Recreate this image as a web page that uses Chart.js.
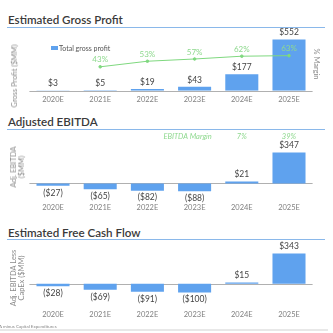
<!DOCTYPE html>
<html>
<head>
<meta charset="utf-8">
<script src="https://cdn.jsdelivr.net/npm/chart.js@4.4.1/dist/chart.umd.min.js"></script>
<style>
  html, body { margin: 0; padding: 0; background: #fff; }
  body { width: 333px; height: 333px; position: relative; overflow: hidden; font-family: Lato, sans-serif; }
  .title { position: absolute; left: 8px; font-size: 11.6px; font-weight: 600; color: #3a3a3a; white-space: nowrap; }
  .rule { position: absolute; left: 7px; width: 318px; height: 1px; background: #8ab8ea; }
  .box { position: absolute; left: 0; width: 333px; }
  .ytitle { position: absolute; font-size: 7.5px; color: #8a8a8a; white-space: nowrap; text-align: center; line-height: 8px;
            transform: translate(-50%, -50%) rotate(-90deg); }
  .rtitle { position: absolute; font-size: 7.5px; color: #8a8a8a; white-space: nowrap;
            transform: translate(-50%, -50%) rotate(90deg); }
  .legend { position: absolute; left: 51px; top: 44px; font-size: 7px; color: #555; white-space: nowrap; }
  .legend span { display: inline-block; width: 7px; height: 4px; background: #5fa2ee; margin-right: 1px; vertical-align: 1px; }
  .note { position: absolute; left: -1px; top: 324px; font-size: 4.5px; color: #888; white-space: nowrap; }
  .bottom { position: absolute; left: 0; top: 329px; width: 328px; height: 2px; background: #e8e8e8; }
</style>
</head>
<body>
<div class="title" style="top:13px">Estimated Gross Profit</div>
<div class="rule" style="top:27px"></div>
<div class="box" style="top:28px;height:84px"><canvas id="c1"></canvas></div>
<div class="ytitle" style="left:15px;top:76px">Gross Profit ($MM)</div>
<div class="rtitle" style="left:316px;top:64px">% Margin</div>
<div class="legend"><span></span>Total gross profit</div>

<div class="title" style="top:115px">Adjusted EBITDA</div>
<div class="rule" style="top:129px"></div>
<div class="box" style="top:130px;height:90px"><canvas id="c2"></canvas></div>
<div class="ytitle" style="left:18px;top:167px">Adj. EBITDA<br>($MM)</div>

<div class="title" style="top:226px">Estimated Free Cash Flow</div>
<div class="rule" style="top:239px"></div>
<div class="box" style="top:241px;height:85px"><canvas id="c3"></canvas></div>
<div class="ytitle" style="left:18px;top:278px">Adj. EBITDA Less<br>CapEx ($MM)</div>

<div class="note">A minus Capital Expenditures</div>
<div class="bottom"></div>

<script>
// categories
var years = ['2020E', '2021E', '2022E', '2023E', '2024E', '2025E'];
// values ($MM)
var grossProfit = [3, 5, 19, 43, 177, 552];
var grossMargin = [null, 43, 53, 57, 62, 63];
var ebitda = [-27, -65, -82, -88, 21, 347];
var ebitdaMargin = [null, null, null, null, 7, 39];
var freeCashFlow = [-28, -69, -91, -100, 15, 343];

var barColor = '#5fa2ee';
var green = '#7fd87f';

Chart.defaults.font.family = 'Lato';
Chart.defaults.color = '#808080';

function money(v) {
  return v < 0 ? '($' + (-v) + ')' : '$' + v;
}

// value labels + zero line
var valueLabels = {
  id: 'valueLabels',
  beforeDatasetsDraw: function(chart) {
    var ctx = chart.ctx;
    var area = chart.chartArea;
    var y0 = Math.round(chart.scales.y.getPixelForValue(0)) + 0.5;
    ctx.save();
    ctx.strokeStyle = '#b0b0b0';
    ctx.lineWidth = 1;
    ctx.beginPath();
    ctx.moveTo(area.left, y0);
    ctx.lineTo(area.right, y0);
    ctx.stroke();
    ctx.restore();
  },
  afterDatasetsDraw: function(chart, args, opts) {
    var ctx = chart.ctx;
    ctx.save();
    ctx.textAlign = 'center';
    ctx.textBaseline = 'middle';
    chart.data.datasets.forEach(function(ds, i) {
      var meta = chart.getDatasetMeta(i);
      meta.data.forEach(function(el, j) {
        var v = ds.data[j];
        if (v == null) return;
        if (meta.type == 'line') {
          ctx.fillStyle = '#8fd98f';
          ctx.font = '8px Lato';
          ctx.fillText(v + '%', el.x, el.y - 7);
        } else {
          ctx.fillStyle = '#444';
          ctx.font = '8.5px Lato';
          ctx.fillText(money(v), el.x, v < 0 ? el.y + 7 : el.y - 7);
        }
      });
    });
    if (opts.margins) {
      var x = chart.scales.x;
      var yy = chart.chartArea.top - 11;
      ctx.fillStyle = '#8fd98f';
      ctx.font = 'italic 7.5px Lato';
      opts.margins.forEach(function(m, j) {
        if (m == null) return;
        ctx.fillText(m + '%', x.getPixelForValue(j), yy);
      });
      ctx.textAlign = 'right';
      ctx.fillText('EBITDA Margin', x.getPixelForValue(4) - 30, yy);
    }
    ctx.restore();
  }
};

function xAxis() {
  return {
    grid: { display: false, drawTicks: false },
    border: { display: false },
    ticks: { padding: 4, font: { size: 7.5 }, color: '#808080' }
  };
}

function barSet(data) {
  return {
    type: 'bar',
    data: data,
    backgroundColor: barColor,
    barPercentage: 0.7,
    categoryPercentage: 1,
    order: 2
  };
}

var c1 = new Chart(document.getElementById('c1'), {
  data: {
    labels: years,
    datasets: [
      {
        type: 'line',
        data: grossMargin,
        yAxisID: 'y2',
        borderColor: green,
        backgroundColor: green,
        borderWidth: 1,
        pointRadius: 1.3,
        order: 1
      },
      barSet(grossProfit)
    ]
  },
  options: {
    responsive: true,
    maintainAspectRatio: false,
    animation: false,
    layout: { padding: { left: 29.4, right: 20.4, top: 7, bottom: 4.2 } },
    plugins: { legend: { display: false }, tooltip: { enabled: false }, valueLabels: {} },
    scales: {
      x: xAxis(),
      y: { display: false, min: 0, max: 600 },
      y2: { display: false, min: 0, max: 100 }
    }
  },
  plugins: [valueLabels]
});

var c2 = new Chart(document.getElementById('c2'), {
  data: { labels: years, datasets: [barSet(ebitda)] },
  options: {
    responsive: true,
    maintainAspectRatio: false,
    animation: false,
    layout: { padding: { left: 29.4, right: 20.4, top: 17.8, bottom: 3.6 } },
    plugins: { legend: { display: false }, tooltip: { enabled: false }, valueLabels: { margins: ebitdaMargin } },
    scales: {
      x: xAxis(),
      y: { display: false, min: -180, max: 400 }
    }
  },
  plugins: [valueLabels]
});

var c3 = new Chart(document.getElementById('c3'), {
  data: { labels: years, datasets: [barSet(freeCashFlow)] },
  options: {
    responsive: true,
    maintainAspectRatio: false,
    animation: false,
    layout: { padding: { left: 29.4, right: 20.4, top: 7.5, bottom: 3.2 } },
    plugins: { legend: { display: false }, tooltip: { enabled: false }, valueLabels: {} },
    scales: {
      x: xAxis(),
      y: { display: false, min: -250, max: 400 }
    }
  },
  plugins: [valueLabels]
});
</script>
</body>
</html>
